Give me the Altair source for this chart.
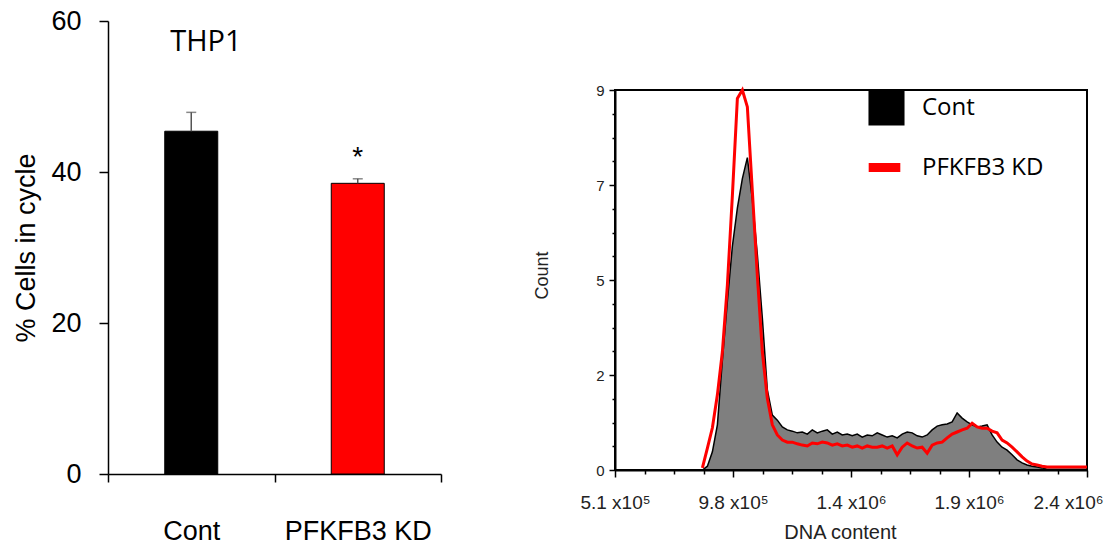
import json
import altair as alt
import pandas as pd

# ---------------- left panel: % cells in cycle ----------------
groups = ["Cont", "PFKFB3 KD"]
pct_cycle = [45.4, 38.5]
err_high = [47.9, 39.1]
bar_colors = ["#000000", "#FF0000"]
star_marks = ["", "*"]
panel_label = ["THP1"]
panel_label_group = ["Cont"]
panel_label_y = [56.0]

# ---------------- right panel: DNA content histogram ----------------
dna_bins = list(range(800000, 2400001, 20000))
cont_counts = [
    0, 0, 0, 0, 0.09, 0.43, 1.07, 2.6, 4.0, 5.3,
    6.2, 6.9, 7.4, 6.4, 5.1, 3.6, 1.9, 1.3, 1.18, 1.02,
    0.95, 0.92, 0.88, 0.90, 0.85, 0.95, 0.88, 0.92, 0.95, 0.85,
    0.90, 0.83, 0.85, 0.81, 0.85, 0.78, 0.83, 0.81, 0.88, 0.83,
    0.78, 0.81, 0.76, 0.85, 0.90, 0.88, 0.81, 0.78, 0.83, 0.95,
    1.04, 1.07, 1.09, 1.14, 1.35, 1.23, 1.14, 1.07, 1.02, 1.04,
    1.07, 0.83, 0.66, 0.54, 0.47, 0.36, 0.24, 0.17, 0.12, 0.09,
    0.07, 0.05, 0.02, 0.02, 0.02, 0.02, 0.02, 0.02, 0.02, 0.02,
    0.02,
]
kd_counts = [
    None, None, None, 0.05, 0.52, 1.0, 1.78, 2.8, 4.38, 6.5,
    8.8, 9.0, 8.6, 6.6, 4.6, 2.8, 1.7, 1.07, 0.83, 0.71,
    0.66, 0.66, 0.62, 0.59, 0.57, 0.64, 0.62, 0.66, 0.64, 0.59,
    0.62, 0.57, 0.59, 0.54, 0.57, 0.52, 0.57, 0.54, 0.54, 0.57,
    0.52, 0.57, 0.36, 0.54, 0.64, 0.57, 0.52, 0.54, 0.40, 0.59,
    0.64, 0.66, 0.76, 0.85, 0.90, 0.95, 0.99, 1.11, 1.02, 0.99,
    0.99, 0.92, 0.88, 0.71, 0.64, 0.54, 0.43, 0.31, 0.21, 0.14,
    0.12, 0.09, 0.07, 0.07, 0.07, 0.07, 0.07, 0.07, 0.07, 0.07,
    0.07,
]
legend_labels = ["Cont", "PFKFB3 KD"]
x_min, x_max = 510000, 2400000
x_tick_labels = ["5.1 x10\u2075", "9.8 x10\u2075", "1.4 x10\u2076", "1.9 x10\u2076", "2.4 x10\u2076"]
y_max = 9
y_tick_labels = ["0", "2", "5", "7", "9"]

ARIAL = "Liberation Sans"
CALIBRI = "Open Sans"

# ---------------- left chart ----------------
bar_df = pd.DataFrame({"group": groups, "value": pct_cycle, "err": err_high, "star": star_marks})
lab_df = pd.DataFrame({"group": panel_label_group, "value": panel_label_y, "label": panel_label})

x_bar = alt.X(
    "group:N", sort=groups,
    scale=alt.Scale(paddingInner=0, paddingOuter=0),
    axis=alt.Axis(title=None, tickBand="extent", labelAngle=0, labelFont=ARIAL,
                  labelFontSize=27, labelColor="black", labelPadding=36, tickSize=8,
                  tickColor="black", tickWidth=1.5, domainColor="black", domainWidth=1.5),
)
y_bar = alt.Y(
    "value:Q", scale=alt.Scale(domain=[0, 60]),
    axis=alt.Axis(values=[0, 20, 40, 60], title="% Cells in cycle", titleFont=ARIAL,
                  titleFontSize=27, titleFontWeight="normal", titleColor="black",
                  titlePadding=10, labelFont=ARIAL, labelFontSize=27, labelColor="black",
                  labelPadding=18, tickSize=9, tickColor="black", tickWidth=1.5,
                  domainColor="black", domainWidth=1.5, grid=False),
)

bars = alt.Chart(bar_df).mark_bar(size=53, stroke="black", strokeWidth=1).encode(
    x=x_bar, y=y_bar,
    color=alt.Color("group:N", scale=alt.Scale(domain=groups, range=bar_colors), legend=None),
)
err_rule = alt.Chart(bar_df).mark_rule(color="#555555", strokeWidth=1.5).encode(
    x=x_bar, y="value:Q", y2="err:Q")
err_cap = alt.Chart(bar_df).mark_tick(color="#555555", thickness=1.5, size=10,
                                       orient="horizontal").encode(x=x_bar, y="err:Q")
stars = alt.Chart(bar_df).mark_text(font=ARIAL, fontSize=28, baseline="alphabetic",
                                     dy=-13, color="black").encode(
    x=x_bar, y="err:Q", text="star:N")
thp1 = alt.Chart(lab_df).mark_text(font=CALIBRI, fontSize=29, baseline="alphabetic",
                                    align="left", dx=-21, color="black").encode(
    x=x_bar, y="value:Q", text="label:N")

left = alt.layer(bars, err_rule, err_cap, stars, thp1).properties(width=333, height=453)

# ---------------- right chart ----------------
hist_df = pd.DataFrame({
    "dna": dna_bins, "cont": cont_counts, "kd": kd_counts,
    "cont_lab": legend_labels[0], "kd_lab": legend_labels[1],
})

x_step = (x_max - x_min) / 16
x_ticks = [x_min + k * x_step for k in range(17)]
x_major_idx = f"(datum.value - {x_min}) / {x_step * 4}"
x_major_test = f"abs({x_major_idx} - round({x_major_idx})) < 0.001"
x_label_expr = f"{x_major_test} ? {json.dumps(x_tick_labels)}[round({x_major_idx})] : ''"

y_step = y_max / 16
y_ticks = [k * y_step for k in range(17)]
y_major_idx = f"datum.value / {y_step * 4}"
y_major_test = f"abs({y_major_idx} - round({y_major_idx})) < 0.001"
y_label_expr = f"{y_major_test} ? {json.dumps(y_tick_labels)}[round({y_major_idx})] : ''"

x_hist_axis = alt.Axis(
    values=x_ticks, labelExpr=x_label_expr, title="DNA content",
    titleFont=ARIAL, titleFontSize=20, titleFontWeight="normal", titleColor="#222222",
    titlePadding=10, titleX=225, labelFont=ARIAL, labelFontSize=19, labelColor="#222222",
    labelPadding=16, labelAngle=0, labelOverlap=False, labelFlush=False,
    labelOffset={"condition": {"test": f"datum.value >= {x_max - 1}", "value": -19}, "value": 0},
    tickSize={"condition": {"test": x_major_test, "value": 7}, "value": 4},
    tickColor="black", tickWidth=1.5, domainColor="black", domainWidth=2, grid=False,
)
y_hist_axis = alt.Axis(
    values=y_ticks, labelExpr=y_label_expr, title="Count",
    titleFont=ARIAL, titleFontSize=18, titleFontWeight="normal", titleColor="#222222",
    titlePadding=44, titleY=185, labelFont=ARIAL, labelFontSize=15, labelColor="#222222",
    labelPadding=5, labelOverlap=False, labelFlush=False,
    tickSize={"condition": {"test": y_major_test, "value": 6}, "value": 3},
    tickColor="black", tickWidth=1.5, domainColor="black", domainWidth=2, grid=False,
)
x_hist = alt.X("dna:Q", scale=alt.Scale(domain=[x_min, x_max], nice=False, zero=False),
               axis=x_hist_axis)
y_scale = alt.Scale(domain=[0, y_max], nice=False)

cont_area = alt.Chart(hist_df).mark_area(interpolate="linear", fillOpacity=0.5).encode(
    x=x_hist,
    y=alt.Y("cont:Q", scale=y_scale, axis=y_hist_axis),
    fill=alt.Fill("cont_lab:N", scale=alt.Scale(domain=[legend_labels[0]], range=["black"]),
                  legend=alt.Legend(title=None, orient="none", legendX=760, legendY=68,
                                    symbolType="square", symbolSize=1300, symbolOpacity=1,
                                    symbolStrokeWidth=0, labelFont=CALIBRI, labelFontSize=24,
                                    labelColor="black", labelOffset=17, padding=0)),
)
cont_line = alt.Chart(hist_df).mark_line(interpolate="linear", color="black",
                                          strokeWidth=1.5).encode(
    x=x_hist, y=alt.Y("cont:Q", scale=y_scale, axis=y_hist_axis))
kd_line = alt.Chart(hist_df).mark_line(interpolate="linear", strokeWidth=3).encode(
    x=x_hist,
    y=alt.Y("kd:Q", scale=y_scale, axis=y_hist_axis),
    stroke=alt.Stroke("kd_lab:N", scale=alt.Scale(domain=[legend_labels[1]], range=["#FF0000"]),
                      legend=alt.Legend(title=None, orient="none", legendX=756, legendY=126,
                                        symbolType="stroke", symbolSize=1000,
                                        symbolStrokeWidth=9, labelFont=CALIBRI,
                                        labelFontSize=24, labelColor="black",
                                        labelOffset=17, padding=0)),
)

hist = alt.layer(cont_area, cont_line, kd_line).properties(
    width=472, height=380,
    view=alt.ViewBackground(stroke="black", strokeWidth=2),
)

spacer = alt.Chart(pd.DataFrame({"s": [0]})).mark_point(opacity=0).encode(
    x=alt.X("s:Q", axis=None), y=alt.Y("s:Q", axis=None)
).properties(width=472, height=69)

right = alt.vconcat(spacer, hist, spacing=0, bounds="flush")

chart = alt.hconcat(left, right, spacing=174, bounds="flush").properties(
    padding={"left": 12, "top": 7, "right": 0, "bottom": 0}
).configure_view(stroke=None)

chart.save("out.html", embed_options={"renderer": "svg", "actions": False})
